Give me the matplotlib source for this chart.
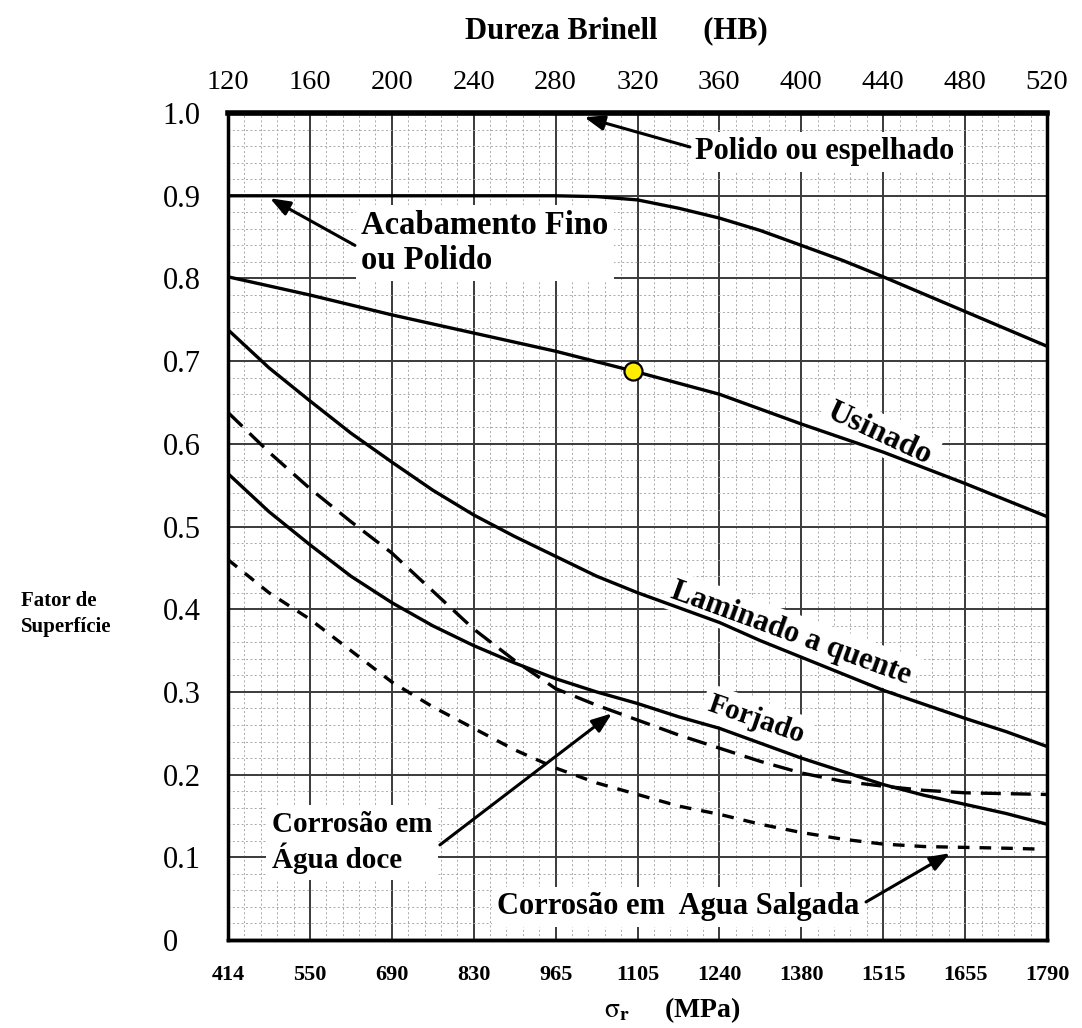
import numpy as np
import matplotlib
matplotlib.use("Agg")
import matplotlib.pyplot as plt

plt.rcParams["font.family"] = ["Liberation Serif", "DejaVu Serif"]
plt.rcParams["mathtext.fontset"] = "stix"

# dados (dureza Brinell HB x fator de superficie)
hb_ticks = [120, 160, 200, 240, 280, 320, 360, 400, 440, 480, 520]
mpa_labels = ["414", "550", "690", "830", "965", "1105", "1240", "1380", "1515", "1655", "1790"]
y_ticks = [0, 0.1, 0.2, 0.3, 0.4, 0.5, 0.6, 0.7, 0.8, 0.9, 1.0]
y_labels = ["0", "0.1", "0.2", "0.3", "0.4", "0.5", "0.6", "0.7", "0.8", "0.9", "1.0"]

polido_hb = [120, 520]
polido = [1.0, 1.0]

fino_hb = [120, 200, 280, 300, 320, 340, 360, 380, 400, 420, 440, 460, 480, 500, 520]
fino = [0.9, 0.9, 0.9, 0.899, 0.895, 0.885, 0.873, 0.858, 0.84, 0.822, 0.802, 0.781, 0.76, 0.739, 0.718]

usinado_hb = [120, 160, 200, 240, 280, 318, 360, 400, 440, 480, 520]
usinado = [0.802, 0.78, 0.756, 0.734, 0.712, 0.688, 0.66, 0.624, 0.59, 0.552, 0.512]

curve_hb = [120, 140, 160, 180, 200, 220, 240, 260, 280, 300, 320, 340, 360, 380, 400, 420, 440, 460, 480, 500, 520]
laminado = [0.738, 0.692, 0.652, 0.613, 0.578, 0.544, 0.514, 0.488, 0.464, 0.44, 0.42, 0.402, 0.384, 0.362,
            0.342, 0.322, 0.302, 0.285, 0.268, 0.252, 0.234]
forjado = [0.564, 0.518, 0.478, 0.44, 0.408, 0.38, 0.356, 0.335, 0.316, 0.3, 0.286, 0.27, 0.256, 0.238,
           0.22, 0.204, 0.188, 0.175, 0.164, 0.153, 0.14]
doce = [0.638, 0.59, 0.546, 0.506, 0.468, 0.422, 0.376, 0.338, 0.304, 0.284, 0.266, 0.248, 0.232, 0.216,
        0.202, 0.192, 0.186, 0.181, 0.178, 0.177, 0.176]

salgada_hb = [120, 140, 160, 180, 200, 220, 240, 260, 280, 300, 320, 340, 360, 380, 400, 420, 440, 460, 480, 500, 515]
salgada = [0.46, 0.42, 0.388, 0.35, 0.312, 0.282, 0.256, 0.23, 0.208, 0.19, 0.176, 0.162, 0.152, 0.14,
           0.13, 0.122, 0.116, 0.113, 0.112, 0.111, 0.11]

ponto_hb = [318]
ponto = [0.688]

fig = plt.figure(figsize=(10.82, 10.28), dpi=100)
ax = fig.add_axes([0.2107, 0.0856, 0.757, 0.8044])
ax.set_xlim(120, 520)
ax.set_ylim(0, 1.0)

# grade
ax.set_xticks(hb_ticks)
ax.set_xticks(np.arange(120, 521, 8), minor=True)
ax.set_yticks(y_ticks, labels=y_labels)
ax.set_yticks(np.arange(0, 1.001, 0.02), minor=True)
ax.grid(which="major", color="#3a3a3a", lw=1.4, zorder=1)
ax.grid(which="minor", color="#a8a8a8", lw=0.7, ls=(0, (2, 2.5)), zorder=0.5)
ax.set_axisbelow(True)

ax.xaxis.tick_top()
ax.tick_params(axis="x", which="both", length=0, pad=13, labelsize=20.5)
ax.tick_params(axis="y", which="both", length=0, pad=47, labelsize=22)
for lab in ax.get_yticklabels():
    lab.set_horizontalalignment("left")
ax.xaxis.set_label_position("top")
ax.set_xlabel("Dureza Brinell      (HB)", fontsize=22, fontweight="bold")
ax.xaxis.set_label_coords(0.474, 1.09)

sec = ax.secondary_xaxis("bottom")
sec.set_xticks(hb_ticks, labels=mpa_labels)
sec.tick_params(length=0, pad=18, labelsize=16)
for lab in sec.get_xticklabels():
    lab.set_fontweight("bold")
sec.set_xlabel(r"$\mathrm{\sigma}_\mathbf{r}$     (MPa)", fontsize=20, fontweight="bold")
sec.xaxis.set_label_coords(0.542, -0.067, transform=ax.transAxes)

for sp in ax.spines.values():
    sp.set_linewidth(2.5)
sec.spines["bottom"].set_linewidth(2.5)

fig.text(0.019, 0.403, "Fator de\nSuperfície", fontsize=15, fontweight="bold",
         ha="left", va="center", multialignment="left", linespacing=1.4)

# curvas
lw = 2.4
ax.plot(polido_hb, polido, color="black", lw=4, zorder=3, clip_on=False)
ax.plot(fino_hb, fino, color="black", lw=lw, zorder=3)
ax.plot(usinado_hb, usinado, color="black", lw=lw, zorder=3)
ax.plot(curve_hb, laminado, color="black", lw=lw, zorder=3)
ax.plot(curve_hb, forjado, color="black", lw=lw, zorder=3)
ax.plot(curve_hb, doce, color="black", lw=lw, ls=(0, (6, 3)), zorder=3)
ax.plot(salgada_hb, salgada, color="black", lw=lw, ls=(0, (3.5, 3)), zorder=3)
ax.plot(ponto_hb, ponto, "o", ms=13, mfc="#ffee00", mec="black", mew=1.6, zorder=5)

# rotulos
box = dict(facecolor="white", edgecolor="none", pad=4)
txt = dict(fontweight="bold", zorder=2, bbox=box)
arrow = dict(arrowstyle="-|>,head_length=1.2,head_width=0.45", color="black", lw=2.2,
             shrinkA=0, shrinkB=0)

ax.text(348, 0.953, "Polido ou espelhado", fontsize=22, ha="left", va="center", **txt)
ax.text(185, 0.843, "Acabamento Fino\nou Polido", fontsize=23.5, ha="left", va="center",
        linespacing=1.15, **txt)
ax.text(141.5, 0.118, "Corrosão em\nÁgua doce", fontsize=21, ha="left", va="center",
        linespacing=1.2, **txt)
ax.text(251.4, 0.04, "Corrosão em  Agua Salgada", fontsize=22, ha="left", va="center", **txt)

ax.text(438, 0.612, "Usinado", fontsize=23, rotation=-25, ha="center", va="center", **txt)
ax.text(395, 0.371, "Laminado a quente", fontsize=22, rotation=-20, ha="center", va="center", **txt)
ax.text(378, 0.267, "Forjado", fontsize=21, rotation=-19, ha="center", va="center", **txt)

# setas
ax.annotate("", xy=(294, 0.995), xytext=(345.6, 0.959), arrowprops=arrow, zorder=4)
ax.annotate("", xy=(140.5, 0.897), xytext=(182, 0.84), arrowprops=arrow, zorder=4)
ax.annotate("", xy=(307.5, 0.274), xytext=(223.5, 0.115), arrowprops=arrow, zorder=4)
ax.annotate("", xy=(472.6, 0.105), xytext=(431.6, 0.046), arrowprops=arrow, zorder=4)

fig.savefig("out.png", dpi=100)
